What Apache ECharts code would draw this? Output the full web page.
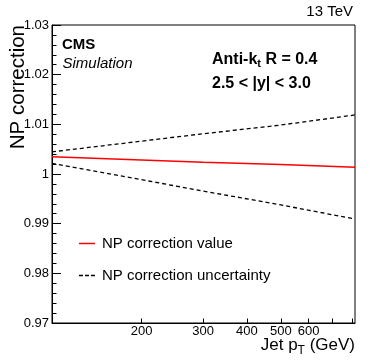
<!DOCTYPE html>
<html>
<head>
<meta charset="utf-8">
<script src="https://cdn.jsdelivr.net/npm/echarts@6/dist/echarts.min.js"></script>
<style>
  html, body { margin: 0; padding: 0; background: #fff; }
  #chart { width: 374px; height: 360px; }
</style>
</head>
<body>
<div id="chart"></div>
<script>
const ptValues = [111, 300, 500, 814];
// NP correction central value and its uncertainty band
const npValue = [1.00345, 1.00235, 1.00189, 1.00134];
const npUp = [1.00446, 1.0081, 1.00986, 1.01189];
const npDown = [1.00215, 0.99657, 0.99377, 0.99093];
// axis ticks
const xTicks = [200, 300, 400, 500, 600, 700, 800];
const xLabels = [200, 300, 400, 500, 600];
const yMin = 0.97, yMax = 1.03, yStep = 0.01;

const FONT = 'Liberation Sans, Arial, Helvetica, sans-serif';
// legend glyphs: solid bar and three short dashes
const solidIcon = 'path://M0,0h16v1.5h-16z';
const dashIcon = 'path://M0,0h4v1.5h-4z M6,0h4v1.5h-4z M12,0h4v1.5h-4z';

function pairs(ys) {
    return ptValues.map((x, i) => [x, ys[i]]);
}

let chart = echarts.init(document.getElementById('chart'));

let option = {
    animation: false,
    grid: {
        left: 52, right: 19, top: 25, bottom: 37,
        show: true,
        borderColor: '#000',
        borderWidth: 1
    },
    legend: {
        orient: 'vertical',
        left: 79,
        top: 235.5,
        padding: 0,
        itemWidth: 16,
        itemHeight: 1.5,
        itemGap: 16,
        data: [
            { name: 'NP correction value', icon: solidIcon },
            { name: 'NP correction uncertainty', icon: dashIcon }
        ],
        textStyle: { fontFamily: FONT, fontSize: 15, lineHeight: 16, color: '#000', padding: [0, 0, 0, 2] }
    },
    xAxis: {
        type: 'log',
        logBase: 10,
        min: 111,
        max: 814,
        axisLine: { show: true, lineStyle: { color: '#000', width: 1 } },
        axisTick: { show: true, inside: true, length: 4.5, customValues: xTicks, lineStyle: { color: '#000' } },
        axisLabel: {
            customValues: xLabels,
            margin: 2,
            fontFamily: FONT, fontSize: 13, color: '#000'
        },
        minorTick: { show: false },
        splitLine: { show: false }
    },
    yAxis: {
        type: 'value',
        min: yMin,
        max: yMax,
        interval: yStep,
        axisLine: { show: true, lineStyle: { color: '#000', width: 1 } },
        axisTick: { show: true, inside: true, length: 9, lineStyle: { color: '#000' } },
        minorTick: { show: true, splitNumber: 5, length: 4.5, lineStyle: { color: '#000' } },
        axisLabel: {
            margin: 3,
            fontFamily: FONT, fontSize: 13, color: '#000',
            formatter: v => String(Number(v.toFixed(2)))
        },
        splitLine: { show: false }
    },
    series: [
        {
            name: 'NP correction value',
            type: 'line',
            data: pairs(npValue),
            symbol: 'none',
            lineStyle: { color: '#ff0000', width: 1.5 },
            itemStyle: { color: '#ff0000' }
        },
        {
            name: 'NP correction uncertainty',
            type: 'line',
            data: pairs(npUp),
            symbol: 'none',
            lineStyle: { color: '#000', width: 1.3, type: [4, 3] },
            itemStyle: { color: '#000' }
        },
        {
            name: 'NP correction uncertainty',
            type: 'line',
            data: pairs(npDown),
            symbol: 'none',
            lineStyle: { color: '#000', width: 1.3, type: [4, 3] },
            itemStyle: { color: '#000' }
        }
    ],
    graphic: [
        {
            type: 'text', x: 353, y: 12,
            style: { text: '13 TeV', font: '15px ' + FONT, fill: '#000', textAlign: 'right', textVerticalAlign: 'middle' }
        },
        {
            type: 'text', x: 62, y: 45,
            style: { text: 'CMS', font: 'bold 15px ' + FONT, fill: '#000', textAlign: 'left', textVerticalAlign: 'middle' }
        },
        {
            type: 'text', x: 62.5, y: 63.5,
            style: { text: 'Simulation', font: 'italic 15px ' + FONT, fill: '#000', textAlign: 'left', textVerticalAlign: 'middle' }
        },
        {
            type: 'text', x: 212, y: 59.5,
            style: {
                text: '{m|Anti-k}{s|t}{m| R = 0.4}',
                textAlign: 'left', textVerticalAlign: 'middle',
                rich: {
                    m: { fontFamily: FONT, fontSize: 16, fontWeight: 'bold', color: '#000' },
                    s: { fontFamily: FONT, fontSize: 11, fontWeight: 'bold', color: '#000', padding: [8, 0, 0, 0] }
                }
            }
        },
        {
            type: 'text', x: 212, y: 84,
            style: { text: '2.5 < |y| < 3.0', font: 'bold 16px ' + FONT, fill: '#000', textAlign: 'left', textVerticalAlign: 'middle' }
        },
        {
            type: 'text', x: 355, y: 345.5,
            style: {
                text: '{m|Jet p}{s|T}{m| (GeV)}',
                textAlign: 'right', textVerticalAlign: 'middle',
                rich: {
                    m: { fontFamily: FONT, fontSize: 17, color: '#000' },
                    s: { fontFamily: FONT, fontSize: 12, color: '#000', padding: [10, 0, 0, 0] }
                }
            }
        },
        {
            type: 'text', x: 18, y: 25, rotation: Math.PI / 2,
            style: { text: 'NP correction', font: '20.5px ' + FONT, fill: '#000', textAlign: 'right', textVerticalAlign: 'middle' }
        }
    ]
};

chart.setOption(option);
</script>
</body>
</html>
